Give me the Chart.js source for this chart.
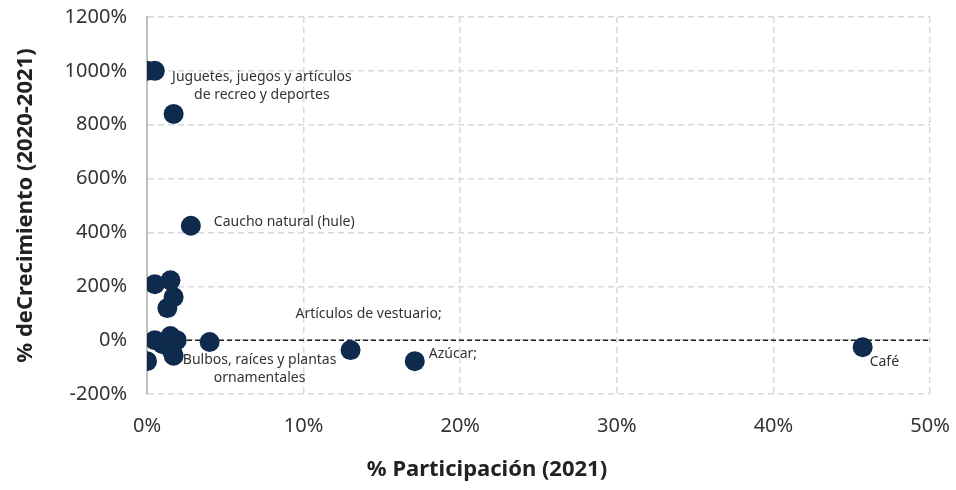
<!DOCTYPE html>
<html>
<head>
<meta charset="utf-8">
<script src="https://cdn.jsdelivr.net/npm/chart.js@4.4.0/dist/chart.umd.min.js"></script>
<style>
  html, body { margin: 0; padding: 0; background: #fff; }
  #wrap { width: 956px; height: 490px; }
</style>
</head>
<body>
<div id="wrap"><canvas id="chart"></canvas></div>
<script>
// % participación 2021 (x) y % crecimiento 2020-2021 (y)
const participacion = [0.0, 0.5, 1.7, 2.8, 0.5, 1.5, 1.7, 1.3, 0.5, 1.5, 1.9, 1.0, 1.6, 1.7, 0.0, 4.0, 13.0, 17.1, 45.7];
const crecimiento   = [1000, 1000, 840, 425, 208, 222, 160, 119, 0, 15, 0, -15, -40, -58, -78, -7, -37, -78, -26];
const etiquetas     = ['', 'Juguetes, juegos y artículos\nde recreo y deportes', '', 'Caucho natural (hule)', '', '', '', '', '', '', '', '', '', 'Bulbos, raíces y plantas\nornamentales', '', '', 'Artículos de vestuario;', 'Azúcar;', 'Café'];
const xTicks = [0, 10, 20, 30, 40, 50];
const yTicks = [-200, 0, 200, 400, 600, 800, 1000, 1200];
const xTitle = '% Participación (2021)';
const yTitle = '% deCrecimiento (2020-2021)';

const navy = '#0e2b4d';
const fontName = "'Noto Sans', sans-serif";

// where each label sits relative to its point
const labelPlace = {
  1:  { dx: 107, dy: 6,   align: 'center' },
  3:  { dx: 23,  dy: -4,  align: 'left' },
  13: { dx: 86,  dy: 4,   align: 'center' },
  16: { dx: 18,  dy: -36, align: 'center' },
  17: { dx: 14,  dy: -7,  align: 'left' },
  18: { dx: 7,   dy: 15,  align: 'left' }
};

const pointLabels = {
  id: 'pointLabels',
  afterDatasetsDraw(chart) {
    const ctx = chart.ctx;
    const meta = chart.getDatasetMeta(0);
    ctx.save();
    ctx.font = '14px ' + fontName;
    ctx.fillStyle = '#333';
    ctx.textBaseline = 'middle';
    etiquetas.forEach(function(txt, i) {
      if (!txt) return;
      const p = meta.data[i];
      const pl = labelPlace[i] || { dx: 12, dy: 0, align: 'left' };
      ctx.textAlign = pl.align;
      txt.split('\n').forEach(function(line, k) {
        ctx.fillText(line, p.x + pl.dx, p.y + pl.dy + k * 18);
      });
    });
    // x axis title, a little left of the plot centre as in the original
    ctx.font = 'bold 22px ' + fontName;
    ctx.fillStyle = '#222';
    ctx.textAlign = 'center';
    ctx.fillText(xTitle, 487, 470);
    ctx.restore();
  }
};

const points = participacion.map(function(v, i) { return { x: v, y: crecimiento[i] }; });

new Chart(document.getElementById('chart'), {
  type: 'scatter',
  data: {
    datasets: [{
      data: points,
      backgroundColor: navy,
      borderWidth: 0,
      pointRadius: 10,
      pointHoverRadius: 10,
      order: 1
    }, {
      type: 'line',
      data: [{ x: xTicks[0], y: 0 }, { x: xTicks[xTicks.length - 1], y: 0 }],
      borderColor: '#222',
      borderWidth: 1.5,
      borderDash: [5, 3],
      pointRadius: 0,
      order: 2
    }]
  },
  options: {
    responsive: true,
    maintainAspectRatio: false,
    animation: false,
    layout: { padding: { top: 17, right: 26 } },
    plugins: { legend: { display: false }, tooltip: { enabled: false } },
    scales: {
      x: {
        min: 0, max: 50,
        afterBuildTicks: function(s) { s.ticks = xTicks.map(function(v) { return { value: v }; }); },
        afterFit: function(s) { s.height = 96; s.paddingLeft = 0; s.paddingRight = 0; },
        ticks: { color: '#333', font: { family: fontName, size: 20 }, padding: 20, maxRotation: 0, callback: function(v) { return v + '%'; } },
        grid: { color: '#d9d9d9', lineWidth: 1.5, drawTicks: false },
        border: { display: false, dash: [6, 4] }
      },
      y: {
        min: -200, max: 1200,
        afterBuildTicks: function(s) { s.ticks = yTicks.map(function(v) { return { value: v }; }); },
        afterFit: function(s) { s.width = 147; s.paddingTop = 0; s.paddingBottom = 0; },
        ticks: { color: '#333', font: { family: fontName, size: 20 }, padding: 20, callback: function(v) { return v + '%'; } },
        grid: { color: '#d9d9d9', lineWidth: 1.5, drawTicks: false },
        border: { display: true, color: '#bfbfbf', width: 2, dash: [6, 4] },
        title: { display: true, text: yTitle, color: '#222', font: { family: fontName, size: 22, weight: 'bold' }, padding: { top: 13, bottom: 0 } }
      }
    }
  },
  plugins: [pointLabels]
});
</script>
</body>
</html>
